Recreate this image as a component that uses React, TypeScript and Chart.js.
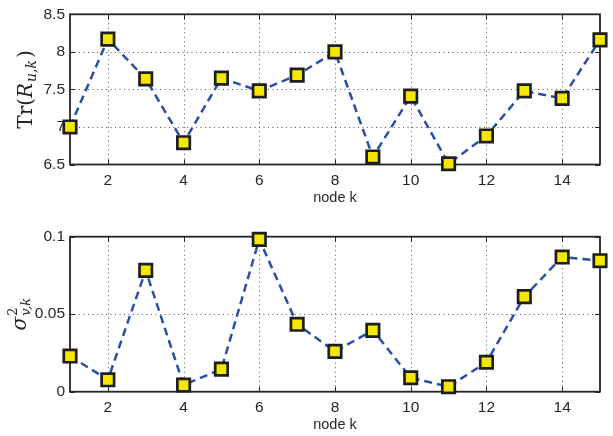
import React, { useEffect, useRef } from "react";
import { Chart, registerables } from "chart.js";

Chart.register(...registerables);

const nodes = [1, 2, 3, 4, 5, 6, 7, 8, 9, 10, 11, 12, 13, 14, 15];
const traceValues = [7.0, 8.17, 7.64, 6.79, 7.65, 7.48, 7.69, 8.0, 6.6, 7.41, 6.51, 6.88, 7.48, 7.38, 8.16];
const noiseValues = [0.023, 0.0077, 0.0783, 0.0043, 0.0146, 0.0983, 0.0435, 0.026, 0.0396, 0.009, 0.0032, 0.019, 0.0613, 0.0869, 0.0845];
const xTicks = [2, 4, 6, 8, 10, 12, 14];
const traceTicks = [6.5, 7, 7.5, 8, 8.5];
const noiseTicks = [0, 0.05, 0.1];
const xLabel = "node k";

const LINE_COLOR = "#2b4fa6";
const MARKER_FILL = "#f4e800";
const MARKER_EDGE = "#1e1e1e";
const SANS = "'Liberation Sans', Arial, Helvetica, sans-serif";
const SERIF = "'DejaVu Serif', 'Liberation Serif', serif";

type TitlePart = { text: string; font: string; dy: number; gap?: number; stackNext?: boolean };

function makeFramePlugin(titleParts: TitlePart[], titleX: number) {
  return {
    id: "frame",
    beforeDatasetsDraw(chart: any) {
      const { ctx, chartArea: a, scales } = chart;
      const xs = scales.x;
      const ys = scales.y;
      ctx.save();
      ctx.strokeStyle = "rgba(40,40,40,0.8)";
      ctx.lineWidth = 1;
      ctx.setLineDash([1, 3.5]);
      for (const t of xs.ticks) {
        const px = Math.round(xs.getPixelForValue(t.value)) + 0.5;
        if (px <= a.left + 1 || px >= a.right - 1) continue;
        ctx.beginPath();
        ctx.moveTo(px, a.top);
        ctx.lineTo(px, a.bottom);
        ctx.stroke();
      }
      for (const t of ys.ticks) {
        const py = Math.round(ys.getPixelForValue(t.value)) + 0.5;
        if (py <= a.top + 1 || py >= a.bottom - 1) continue;
        ctx.beginPath();
        ctx.moveTo(a.left, py);
        ctx.lineTo(a.right, py);
        ctx.stroke();
      }
      ctx.setLineDash([]);
      ctx.strokeStyle = "#262626";
      ctx.lineWidth = 1;
      const tl = 5;
      for (const t of xs.ticks) {
        const px = Math.round(xs.getPixelForValue(t.value)) + 0.5;
        ctx.beginPath();
        ctx.moveTo(px, a.bottom);
        ctx.lineTo(px, a.bottom - tl);
        ctx.moveTo(px, a.top);
        ctx.lineTo(px, a.top + tl);
        ctx.stroke();
      }
      for (const t of ys.ticks) {
        const py = Math.round(ys.getPixelForValue(t.value)) + 0.5;
        ctx.beginPath();
        ctx.moveTo(a.left, py);
        ctx.lineTo(a.left + tl, py);
        ctx.moveTo(a.right, py);
        ctx.lineTo(a.right - tl, py);
        ctx.stroke();
      }
      ctx.lineWidth = 1.8;
      ctx.strokeStyle = "#262626";
      ctx.strokeRect(a.left, a.top, a.right - a.left, a.bottom - a.top);
      ctx.restore();
    },
    afterDraw(chart: any) {
      const { ctx, chartArea: a } = chart;
      ctx.save();
      ctx.fillStyle = "#262626";
      ctx.font = `14.5px ${SANS}`;
      ctx.textAlign = "center";
      ctx.textBaseline = "middle";
      ctx.fillText(xLabel, (a.left + a.right) / 2, a.bottom + 33.5);
      ctx.translate(titleX, (a.top + a.bottom) / 2);
      ctx.rotate(-Math.PI / 2);
      ctx.textAlign = "left";
      ctx.textBaseline = "alphabetic";
      const widths: number[] = [];
      titleParts.forEach((p) => {
        ctx.font = p.font;
        widths.push(ctx.measureText(p.text).width);
      });
      let total = 0;
      let pendingStack = 0;
      for (let i = 0; i < titleParts.length; i++) {
        total += titleParts[i].gap || 0;
        if (titleParts[i].stackNext) {
          pendingStack = widths[i];
          continue;
        }
        total += Math.max(widths[i], pendingStack);
        pendingStack = 0;
      }
      let x = -total / 2;
      const baseY = 6;
      let stackW = 0;
      for (let i = 0; i < titleParts.length; i++) {
        const p = titleParts[i];
        x += p.gap || 0;
        ctx.font = p.font;
        ctx.fillText(p.text, x, baseY + p.dy);
        if (p.stackNext) {
          stackW = widths[i];
          continue;
        }
        x += Math.max(widths[i], stackW);
        stackW = 0;
      }
      ctx.restore();
    },
  };
}

function buildConfig(values: number[], yTicks: number[], padTop: number, xHeight: number, plugin: any) {
  return {
    type: "line" as const,
    data: {
      datasets: [
        {
          data: nodes.map((n, i) => ({ x: n, y: values[i] })),
          borderColor: LINE_COLOR,
          borderWidth: 2.5,
          borderDash: [8, 5],
          fill: false,
          tension: 0,
          pointStyle: "rect",
          pointRadius: 8.8,
          pointHoverRadius: 8.8,
          pointBackgroundColor: MARKER_FILL,
          pointBorderColor: MARKER_EDGE,
          pointBorderWidth: 2.7,
          clip: false,
        },
      ],
    },
    options: {
      responsive: false,
      animation: false,
      devicePixelRatio: 1,
      layout: { padding: { top: padTop, right: 13, left: 0, bottom: 0 } },
      plugins: { legend: { display: false }, tooltip: { enabled: false } },
      scales: {
        x: {
          type: "linear",
          min: 1,
          max: 15,
          grid: { display: false, drawTicks: false },
          border: { display: false },
          afterBuildTicks: (s: any) => {
            s.ticks = xTicks.map((v) => ({ value: v }));
          },
          afterFit: (s: any) => {
            s.height = xHeight;
          },
          ticks: {
            padding: 7,
            color: "#262626",
            font: { family: SANS, size: 15.5 },
            maxRotation: 0,
            callback: (v: any) => String(v),
          },
        },
        y: {
          type: "linear",
          min: yTicks[0],
          max: yTicks[yTicks.length - 1],
          grid: { display: false, drawTicks: false },
          border: { display: false },
          afterBuildTicks: (s: any) => {
            s.ticks = yTicks.map((v) => ({ value: v }));
          },
          afterFit: (s: any) => {
            s.width = 70;
          },
          ticks: {
            padding: 5,
            color: "#262626",
            font: { family: SANS, size: 15.5 },
            callback: (v: any) => String(v),
          },
        },
      },
    },
    plugins: [plugin],
  };
}

const traceTitle: TitlePart[] = [
  { text: "Tr(", font: `20px ${SERIF}`, dy: 0 },
  { text: "R", font: `italic 20px ${SERIF}`, dy: 0 },
  { text: "u,k", font: `italic 14px ${SERIF}`, dy: 4, gap: 1 },
  { text: ")", font: `20px ${SERIF}`, dy: 0, gap: 2 },
];

const noiseTitle: TitlePart[] = [
  { text: "σ", font: `italic 20px ${SERIF}`, dy: 0 },
  { text: "2", font: `13px ${SERIF}`, dy: -9, stackNext: true, gap: 1 },
  { text: "v,k", font: `italic 13px ${SERIF}`, dy: 4 },
];

export default function App() {
  const topRef = useRef<HTMLCanvasElement>(null);
  const botRef = useRef<HTMLCanvasElement>(null);

  useEffect(() => {
    const c1 = new Chart(
      topRef.current as HTMLCanvasElement,
      buildConfig(traceValues, traceTicks, 9.5, 40.5, makeFramePlugin(traceTitle, 26)) as any
    );
    const c2 = new Chart(
      botRef.current as HTMLCanvasElement,
      buildConfig(noiseValues, noiseTicks, 31.7, 44.3, makeFramePlugin(noiseTitle, 20)) as any
    );
    return () => {
      c1.destroy();
      c2.destroy();
    };
  }, []);

  return (
    <div style={{ position: "absolute", left: 0, top: 0, width: 613, height: 436, background: "#fff" }}>
      <canvas ref={topRef} width={613} height={205} style={{ display: "block", width: 613, height: 205 }} />
      <canvas ref={botRef} width={613} height={231} style={{ display: "block", width: 613, height: 231 }} />
    </div>
  );
}
